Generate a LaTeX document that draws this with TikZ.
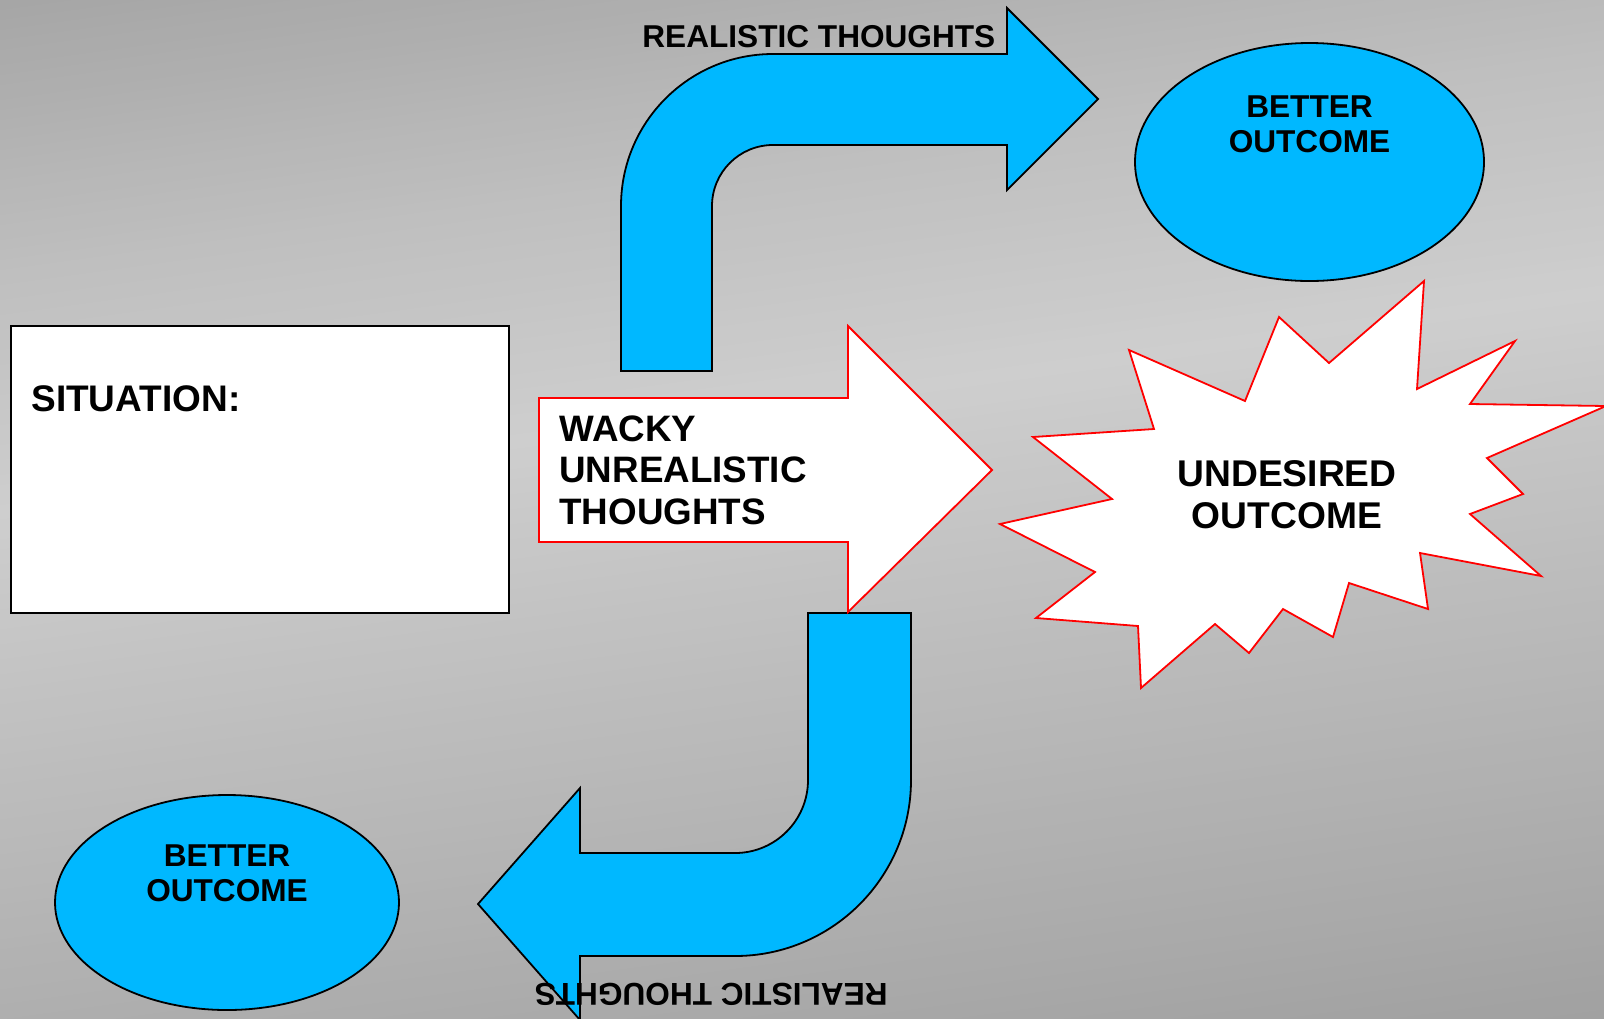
\documentclass[tikz,border=0pt]{standalone}
\usepackage{fontspec}
\setmainfont{Liberation Sans}
\usepackage{tikz}
\usetikzlibrary{positioning}
\usepackage{xcolor}
\definecolor{arrowblue}{RGB}{0,184,255}
\definecolor{bgA}{RGB}{165,165,165}
\definecolor{bgB}{RGB}{190,190,190}
\definecolor{bgC}{RGB}{206,206,206}
\definecolor{bgD}{RGB}{193,193,193}
\definecolor{bgE}{RGB}{175,175,175}
\definecolor{bgF}{RGB}{160,160,160}

% one band of the slanted grey background, from #1 to #2, colour #3 to #4
\newcommand{\bgband}[4]{%
  \pgfmathtruncatemacro\bgsteps{(#2-#1)/5}
  \foreach \k in {0,...,\bgsteps}{%
    \pgfmathsetmacro\bgy{#1+5*\k}
    \pgfmathtruncatemacro\bgp{100*\k/\bgsteps}
    \fill[#4!\bgp!#3] (0,\bgy+110)--(1604,\bgy-110)--++(0,7)--(0,\bgy+117)--cycle;
  }}

\begin{document}
\begin{tikzpicture}[x=0.5pt, y=-0.5pt,
  blueshape/.style={fill=arrowblue, draw=black, line width=0.9pt},
  redshape/.style={fill=white, draw=red, line width=0.9pt},
  smalltext/.style={font=\fontsize{15.8}{17.5}\selectfont\bfseries, inner sep=0pt},
  bigtext/.style={font=\fontsize{18.5}{20.9}\selectfont\bfseries, inner sep=0pt}]

\useasboundingbox (0,0) rectangle (1604,1018);
\begin{scope}
\clip (0,0) rectangle (1604,1018);
\bgband{-120}{150}{bgA}{bgB}
\bgband{150}{400}{bgB}{bgC}
\bgband{400}{600}{bgC}{bgD}
\bgband{600}{900}{bgD}{bgE}
\bgband{900}{1140}{bgE}{bgF}
\end{scope}

% realistic thoughts, upper way
\draw[blueshape] (621,371)--(621,206) arc[start angle=180, end angle=270, radius=152]
  --(1007,54)--++(0,-46)--++(91,91)--++(-91,91)--++(0,-45)--(773,145)
  arc[start angle=270, end angle=180, radius=61]--(712,371)--cycle;
\node[smalltext, anchor=base west] (realistictop) at (642,47) {REALISTIC THOUGHTS};

\draw[blueshape] (1309.5,162) ellipse [x radius=174.5, y radius=119];
\node[smalltext, anchor=north, align=center] (bettertop) at (1309.5,95) {BETTER\\OUTCOME};

% situation
\draw[fill=white, draw=black, line width=0.9pt] (11,326)--++(498,0)--++(0,287)--++(-498,0)--cycle;
\node[bigtext, anchor=base west] (situation) at (31,411) {SITUATION:};

% realistic thoughts, lower way
\draw[blueshape] (808,613)--++(103,0)--(911,780) arc[start angle=0, end angle=90, radius=176]
  --(580,956)--++(0,64)--++(-102,-116)--++(102,-116)--++(0,65)--(735,853)
  arc[start angle=90, end angle=0, radius=73]--cycle;

% wacky arrow
\draw[redshape] (539,398)--++(309,0)--++(0,-72)--++(144,144)--++(-144,142)--++(0,-70)--++(-309,0)--cycle;
\node[bigtext, anchor=north west, align=left, font=\fontsize{18.4}{20.75}\selectfont\bfseries] (wacky) at (559,415) {WACKY\\UNREALISTIC\\THOUGHTS};

\node[smalltext, anchor=base west, rotate=180] (realisticbottom) at (888,983) {REALISTIC THOUGHTS};

\draw[blueshape] (227,902.5) ellipse [x radius=172, y radius=107.5];
\node[smalltext, anchor=north, align=center] (betterbottom) at (227,844) {BETTER\\OUTCOME};

% undesired outcome
\draw[redshape] (1424,281)--(1417,389)--(1515,341)--(1470,404)--(1606,406)--(1487,458)
  --(1523,494)--(1470,514)--(1541,576)--(1420,553)--(1428,609)--(1349,583)
  --(1333,637)--(1283,609)--(1249,653)--(1215,624)--(1141,688)--(1138,626)
  --(1036,618)--(1095,572)--(1000,524)--(1112,499)--(1033,437)--(1154,429)
  --(1129,350)--(1245,401)--(1279,317)--(1329,363)--cycle;
\node[bigtext, anchor=north, align=center, font=\fontsize{18.6}{21}\selectfont\bfseries] (undesired) at (1287,460) {UNDESIRED\\OUTCOME};

\end{tikzpicture}
\end{document}
